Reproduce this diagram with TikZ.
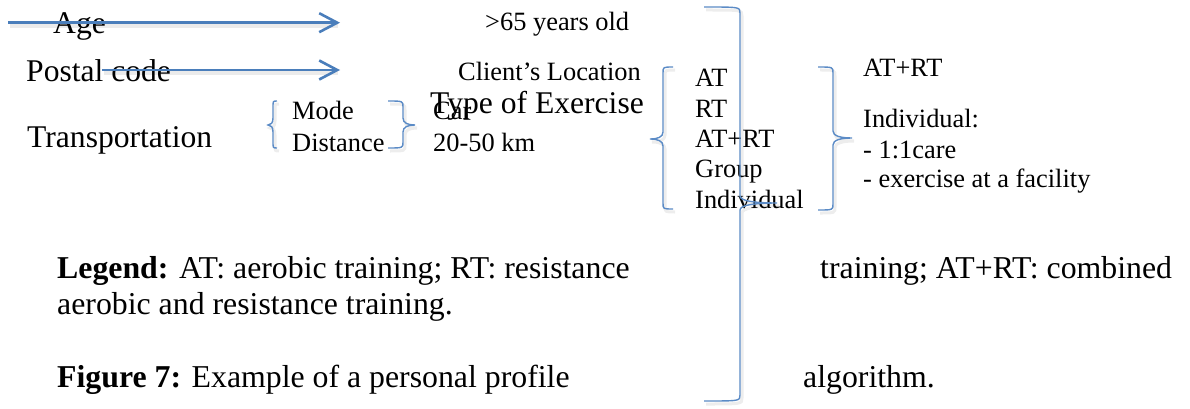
\documentclass[tikz,border=0pt]{standalone}
\usepackage{fontspec}
\setmainfont{Liberation Serif}
\usetikzlibrary{arrows.meta}
\definecolor{obl}{HTML}{4A7EBB}
\definecolor{bbl}{HTML}{5B8BC6}
\tikzset{
  big/.style={font=\fontsize{31.6}{36}\selectfont, anchor=base west, inner sep=0pt},
  small/.style={font=\fontsize{26.4}{30}\selectfont, anchor=base west, inner sep=0pt},
  legendtxt/.style={font=\fontsize{31.8}{36}\selectfont, anchor=base west, inner sep=0pt},
  arrowline/.style={draw=obl, line width=2.6pt, -{Straight Barb[length=18pt,width=19pt]}},
  bracestyle/.style={draw=bbl, line width=1.4pt},
  braceshadow/.style={draw=black, opacity=0.07, line width=3pt},
  shadowline/.style={draw=black, opacity=0.08, line width=4pt},
}
% #1 hook x, #2 vertical x, #3 tip x, #4 top y, #5 tip y, #6 bottom y
\newcommand{\wordbrace}[6]{%
  \foreach \bstyle/\dx/\dy in {braceshadow/2/-3, bracestyle/0/0}{%
  \draw[\bstyle, shift={(\dx,\dy)}] (#1,-#4) .. controls (#2,-#4) .. (#2,{-#4-6})
    -- (#2,{-#5+7}) .. controls (#2,{-#5+2}) and ({0.6*#2+0.4*#3},-#5) .. (#3,-#5)
    .. controls ({0.6*#2+0.4*#3},-#5) and (#2,{-#5-2}) .. (#2,{-#5-7})
    -- (#2,{-#6+6}) .. controls (#2,-#6) .. (#1,-#6);
  }%
}
\begin{document}
\begin{tikzpicture}[x=1pt,y=1pt]
\fill[white] (0,0) rectangle (1190,-409);
\useasboundingbox (0,0) rectangle (1190,-409);

% left column
\node[big] (age) at (53,-33.5) {Age};
\node[big] (postal) at (26,-81.5) {Postal code};
\node[big] (transp) at (27,-147.5) {Transportation};

% transport details
\node[small] (mode) at (292,-119) {Mode};
\node[small] (dist) at (292,-151) {Distance};
\node[small] (car) at (433,-119) {Car};
\node[small] (km) at (433,-151) {20-50 km};

% middle column
\node[small] (age65) at (485,-31) {>65 years old};
\node[small] (loc) at (458,-81) {Client’s Location};
\node[big] (type) at (430,-113.5) {Type of Exercise};

% exercise list
\node[small] (at) at (695,-87) {AT};
\node[small] (rt) at (695,-117.3) {RT};
\node[small] (atrt) at (695,-147.6) {AT+RT};
\node[small] (group) at (695,-177.9) {Group};
\node[small] (indiv) at (695,-208.2) {Individual};

% result column
\node[small] (ratrt) at (863,-77) {AT+RT};
\node[small] (rind) at (863,-128) {Individual:};
\node[small] (rcare) at (863,-158) {- 1:1care};
\node[small] (rfac) at (863,-187) {- exercise at a facility};

% legend and caption
\node[legendtxt] (leg1) at (57,-278) {\textbf{Legend:} AT: aerobic training; RT: resistance};
\node[legendtxt] (leg1b) at (820,-278) {training; AT+RT: combined};
\node[legendtxt] (leg2) at (57,-314) {aerobic and resistance training.};
\node[legendtxt] (cap1) at (57,-387.5) {\textbf{Figure 7:} Example of a personal profile};
\node[legendtxt] (cap2) at (803,-387.5) {algorithm.};

% arrows
\coordinate (a1s) at (8,-22.7);
\coordinate (a1e) at (340,-22.7);
\coordinate (a2s) at (102,-70);
\coordinate (a2e) at (340,-70);
\draw[shadowline] ([shift={(2,-3)}]a1s) -- ([shift={(-2,-3)}]a1e);
\draw[shadowline] ([shift={(2,-3)}]a2s) -- ([shift={(-2,-3)}]a2e);
\draw[arrowline] (a1s) -- (a1e);
\draw[arrowline] (a2s) -- (a2e);

% braces
\wordbrace{277}{273}{268}{101}{125}{148}
\wordbrace{388}{403}{415}{101}{125}{148}
\wordbrace{673}{663}{650}{67}{139}{209}
\wordbrace{818}{833}{852}{67}{138}{210}
\wordbrace{704}{740}{777}{7}{203}{401}
\end{tikzpicture}
\end{document}
